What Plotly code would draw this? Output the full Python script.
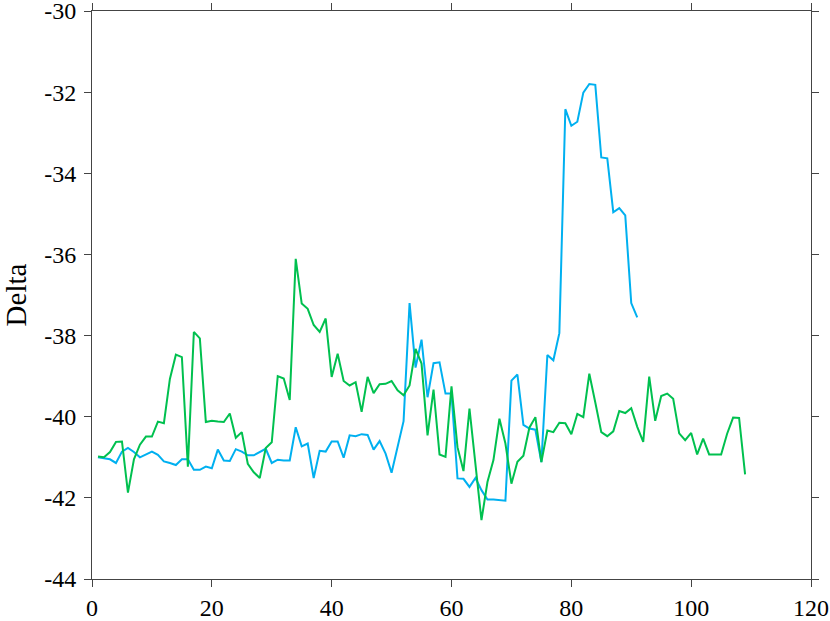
import plotly.graph_objects as go

# series values, one point per integer step starting at 1
blue_vals = [
    -41.00, -41.02, -41.05, -41.14, -40.86, -40.77, -40.87, -41.00, -40.93, -40.86,
    -40.94, -41.10, -41.14, -41.19, -41.05, -41.05, -41.31, -41.31, -41.23, -41.27,
    -40.81, -41.08, -41.09, -40.80, -40.86, -40.95, -40.95, -40.86, -40.79, -41.14,
    -41.06, -41.08, -41.08, -40.26, -40.73, -40.66, -41.51, -40.84, -40.86, -40.61,
    -40.61, -41.01, -40.46, -40.48, -40.43, -40.45, -40.81, -40.60, -40.91, -41.38,
    -40.75, -40.11, -37.20, -38.79, -38.10, -39.52, -38.68, -38.66, -39.43, -39.43,
    -41.52, -41.53, -41.73, -41.51, -41.81, -42.04, -42.04, -42.06, -42.07, -39.11,
    -38.96, -40.20, -40.29, -40.32, -41.12, -38.48, -38.61, -37.94, -32.42, -32.83,
    -32.73, -32.01, -31.80, -31.82, -33.61, -33.63, -34.96, -34.86, -35.04, -37.20,
    -37.55,
]

green_vals = [
    -40.98, -41.00, -40.87, -40.62, -40.61, -41.87, -41.05, -40.69, -40.49, -40.49,
    -40.12, -40.16, -39.07, -38.47, -38.53, -41.23, -37.91, -38.07, -40.13, -40.10,
    -40.12, -40.13, -39.92, -40.52, -40.38, -41.16, -41.37, -41.51, -40.77, -40.63,
    -39.00, -39.06, -39.59, -36.11, -37.21, -37.34, -37.74, -37.91, -37.58, -39.02,
    -38.45, -39.12, -39.23, -39.15, -39.88, -39.02, -39.42, -39.20, -39.19, -39.12,
    -39.35, -39.47, -39.23, -38.33, -38.69, -40.46, -39.33, -40.93, -40.99, -39.25,
    -40.75, -41.34, -39.80, -41.16, -42.55, -41.61, -41.07, -40.05, -40.66, -41.65,
    -41.11, -40.96, -40.27, -40.01, -41.12, -40.34, -40.38, -40.15, -40.16, -40.43,
    -39.93, -40.01, -38.94, -39.65, -40.38, -40.48, -40.36, -39.86, -39.91, -39.79,
    -40.25, -40.62, -39.01, -40.10, -39.49, -39.43, -39.56, -40.41, -40.58, -40.40,
    -40.93, -40.54, -40.93, -40.93, -40.93, -40.42, -40.02, -40.03, -41.42,
]

x_ticks = [0, 20, 40, 60, 80, 100, 120]
y_ticks = [-44, -42, -40, -38, -36, -34, -32, -30]

fig = go.Figure()
fig.add_trace(go.Scatter(
    x=list(range(1, len(blue_vals) + 1)), y=blue_vals,
    mode="lines", line=dict(color="#00B0F0", width=2), showlegend=False,
))
fig.add_trace(go.Scatter(
    x=list(range(1, len(green_vals) + 1)), y=green_vals,
    mode="lines", line=dict(color="#00C04F", width=2), showlegend=False,
))

axis_style = dict(
    showline=True, linecolor="#444", linewidth=1, mirror="ticks",
    ticks="outside", ticklen=7, tickcolor="#444", tickwidth=1,
    showgrid=False, zeroline=False, automargin=False,
    ticklabeloverflow="allow",
)
fig.update_xaxes(range=[0, 120], tickvals=x_ticks, ticklabelstandoff=0, **axis_style)
fig.update_yaxes(
    range=[-44, -30], tickvals=y_ticks, ticktext=[str(v) for v in y_ticks],
    title_text="Delta", title_standoff=12, ticklabelstandoff=3, **axis_style,
)

fig.update_layout(
    width=830, height=621,
    margin=dict(l=92, r=19, t=11, b=42),
    plot_bgcolor="white", paper_bgcolor="white",
    font=dict(family="Liberation Serif", size=24, color="black"),
)

# drop the default body margin so the figure sits flush with the window
fig.write_html(
    "out.html",
    config={"displayModeBar": False},
    post_script="document.body.style.margin = '0';",
)
